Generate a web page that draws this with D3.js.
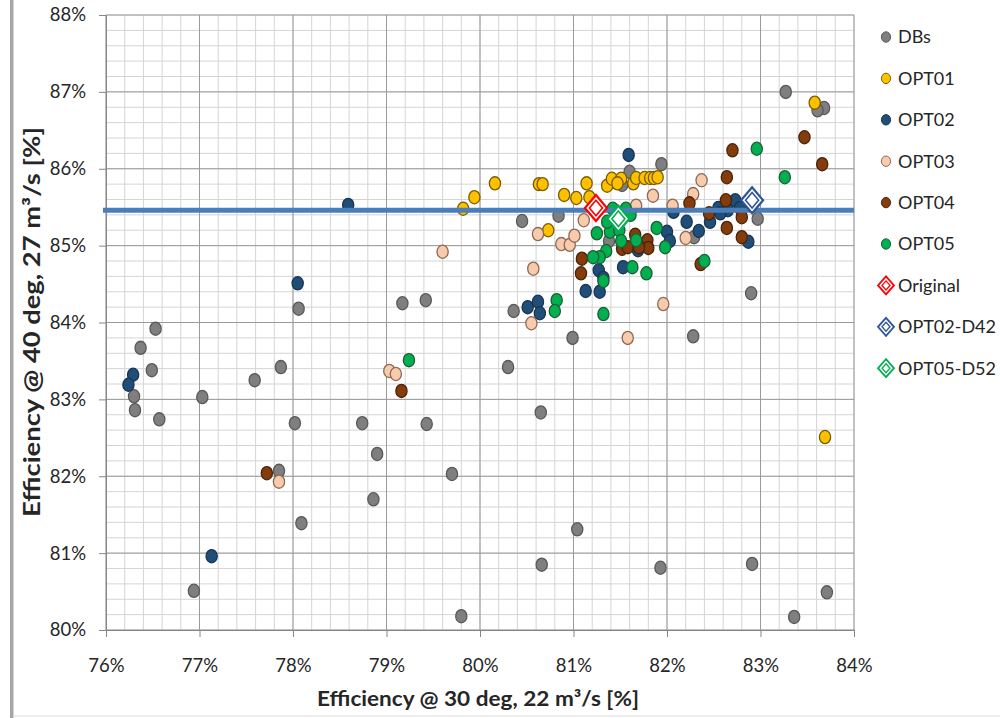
<!DOCTYPE html>
<html>
<head>
<meta charset="utf-8">
<script src="https://cdn.jsdelivr.net/npm/d3@7"></script>
<style>
  body { margin: 0; background: #fff; }
  text { font-family: Lato, "Noto Sans", sans-serif; fill: #262626; }
</style>
</head>
<body>
<script>
const width = 1000;
const height = 718;

// data, [x, y] in percent
const dbs = [
    [83.27, 87.00], [83.68, 86.79], [83.61, 86.76], [81.94, 86.06], [81.60, 85.96],
    [81.52, 85.79], [80.45, 85.32], [80.84, 85.39], [82.97, 85.35], [82.29, 85.11],
    [81.38, 85.06], [80.36, 84.15], [80.99, 83.80], [82.90, 84.38], [82.28, 83.82],
    [79.17, 84.25], [79.42, 84.29], [78.06, 84.18], [80.30, 83.42], [77.87, 83.42],
    [77.59, 83.25], [76.53, 83.92], [76.37, 83.67], [76.49, 83.38], [76.30, 83.04],
    [76.31, 82.86], [76.57, 82.74], [77.03, 83.03], [78.02, 82.69], [78.74, 82.69],
    [79.43, 82.68], [80.65, 82.83], [78.90, 82.29], [79.70, 82.03], [78.86, 81.70],
    [78.09, 81.39], [81.04, 81.31], [80.66, 80.85], [81.93, 80.81], [82.91, 80.86],
    [83.36, 80.17], [83.71, 80.49], [79.80, 80.18], [76.94, 80.51], [77.85, 82.07]
];
const opt01 = [
    [83.58, 86.86], [83.69, 82.51], [79.82, 85.48], [79.94, 85.63], [80.16, 85.81],
    [80.63, 85.80], [80.67, 85.80], [81.14, 85.81], [81.36, 85.78], [81.41, 85.87],
    [81.51, 85.87], [81.47, 85.81], [81.64, 85.81], [81.67, 85.88], [81.76, 85.88],
    [81.82, 85.88], [81.86, 85.88], [81.90, 85.89], [80.90, 85.66], [81.03, 85.62],
    [81.17, 85.63], [80.73, 85.20]
];
const opt02 = [
    [81.59, 86.18], [78.59, 85.53], [78.05, 84.51], [77.13, 80.96], [76.29, 83.32],
    [76.24, 83.19], [80.51, 84.20], [80.62, 84.27], [80.64, 84.12], [81.13, 84.41],
    [81.28, 84.40], [81.27, 84.68], [81.32, 84.58], [81.53, 84.72], [81.69, 84.94],
    [82.00, 85.18], [82.03, 85.06], [82.07, 85.44], [82.21, 85.31], [82.34, 85.19],
    [82.46, 85.31], [82.55, 85.49], [82.65, 85.46], [82.73, 85.59], [82.78, 85.49],
    [82.87, 85.05], [82.57, 85.42]
];
const opt03 = [
    [79.60, 84.92], [79.03, 83.37], [79.10, 83.33], [77.85, 81.93], [81.85, 85.65],
    [82.06, 85.52], [82.37, 85.85], [82.28, 85.67], [82.20, 85.10], [81.96, 84.24],
    [81.58, 83.80], [81.11, 85.33], [80.62, 85.15], [80.87, 85.02], [80.96, 85.01],
    [81.01, 85.13], [80.57, 84.70], [80.55, 83.99], [81.67, 85.52]
];
const opt04 = [
    [83.47, 86.41], [82.70, 86.24], [83.66, 86.06], [82.64, 85.89], [82.24, 85.55],
    [82.63, 85.59], [82.45, 85.42], [82.80, 85.37], [82.64, 85.23], [82.80, 85.11],
    [82.36, 84.76], [79.16, 83.11], [77.72, 82.04], [81.09, 84.83], [81.08, 84.64],
    [81.52, 84.96], [81.58, 84.98], [81.66, 85.14], [81.79, 85.07], [81.80, 84.97],
    [81.70, 84.98]
];
const opt05 = [
    [82.96, 86.26], [83.26, 85.89], [79.24, 83.51], [82.40, 84.80], [81.98, 84.98],
    [81.89, 85.23], [81.42, 85.48], [81.56, 85.48], [81.25, 85.16], [81.39, 85.18],
    [81.49, 85.20], [81.51, 85.06], [81.67, 85.07], [81.35, 84.93], [81.28, 84.85],
    [81.21, 84.85], [81.32, 84.54], [81.63, 84.72], [81.78, 84.64], [80.82, 84.29],
    [80.80, 84.15], [81.32, 84.11], [81.36, 85.31], [81.61, 85.40]
];
const original = [[81.24, 85.49]];
const opt02D42 = [[82.91, 85.59]];
const opt05D52 = [[81.48, 85.35]];
const refLine = 85.46;

const xTicks = [76, 77, 78, 79, 80, 81, 82, 83, 84];
const yTicks = [80, 81, 82, 83, 84, 85, 86, 87, 88];

const dotSeries = [
    { name: "DBs", data: dbs, fill: "#7f7f7f", stroke: "#595959" },
    { name: "OPT01", data: opt01, fill: "#ffc000", stroke: "#7a5c00" },
    { name: "OPT02", data: opt02, fill: "#1f4e79", stroke: "#1a3553" },
    { name: "OPT03", data: opt03, fill: "#f8cbad", stroke: "#8c6a55" },
    { name: "OPT04", data: opt04, fill: "#843c0c", stroke: "#4a2308" },
    { name: "OPT05", data: opt05, fill: "#00b050", stroke: "#1d5e35" }
];
const diamondSeries = [
    { name: "Original", data: original, color: "#ff0000" },
    { name: "OPT02-D42", data: opt02D42, color: "#2f5597" },
    { name: "OPT05-D52", data: opt05D52, color: "#00b050" }
];

const margin = { left: 106, top: 15, right: 146, bottom: 88 };
const plotW = width - margin.left - margin.right;
const plotH = height - margin.top - margin.bottom;

const x = d3.scaleLinear().domain([76, 84]).range([0, plotW]);
const y = d3.scaleLinear().domain([80, 88]).range([plotH, 0]);

const svg = d3.select("body")
    .append("svg")
    .attr("width", width)
    .attr("height", height);

// frame lines of the picture
svg.append("rect").attr("x", 10).attr("y", 0).attr("width", 3.5).attr("height", height)
    .attr("fill", "#a6a6a6");
svg.append("line").attr("x1", 13).attr("x2", width).attr("y1", 716).attr("y2", 716)
    .attr("stroke", "#dcdcdc");

const g = svg.append("g").attr("transform", `translate(${margin.left},${margin.top})`);

// minor grid, every 0.2%
const minorX = d3.range(76, 84.001, 0.2);
const minorY = d3.range(80, 88.001, 0.2);
g.append("g").selectAll("line").data(minorX).enter().append("line")
    .attr("x1", d => x(d)).attr("x2", d => x(d)).attr("y1", 0).attr("y2", plotH)
    .attr("stroke", "#d4d4d4").attr("stroke-width", 1);
g.append("g").selectAll("line").data(minorY).enter().append("line")
    .attr("y1", d => y(d)).attr("y2", d => y(d)).attr("x1", 0).attr("x2", plotW)
    .attr("stroke", "#d4d4d4").attr("stroke-width", 1);

// major grid
g.append("g").selectAll("line").data(xTicks).enter().append("line")
    .attr("x1", d => x(d)).attr("x2", d => x(d)).attr("y1", 0).attr("y2", plotH)
    .attr("stroke", "#9a9a9a").attr("stroke-width", 1);
g.append("g").selectAll("line").data(yTicks).enter().append("line")
    .attr("y1", d => y(d)).attr("y2", d => y(d)).attr("x1", 0).attr("x2", plotW)
    .attr("stroke", "#9a9a9a").attr("stroke-width", 1);

// axes
const xAxis = g.append("g")
    .attr("transform", `translate(0,${plotH})`)
    .call(d3.axisBottom(x).tickValues(xTicks).tickFormat(d => d + "%").tickSize(7).tickPadding(22));
const yAxis = g.append("g")
    .call(d3.axisLeft(y).tickValues(yTicks).tickFormat(d => d + "%").tickSize(7).tickPadding(13));
[xAxis, yAxis].forEach(a => {
    a.select(".domain").attr("stroke", "#868686");
    a.selectAll(".tick line").attr("stroke", "#868686");
    a.selectAll(".tick text").attr("font-size", 18.5).attr("fill", "#262626")
        .style("font-family", "Lato, 'Noto Sans', sans-serif");
});

// points
dotSeries.forEach(s => {
    g.append("g").selectAll("ellipse").data(s.data).enter().append("ellipse")
        .attr("cx", d => x(d[0]))
        .attr("cy", d => y(d[1]))
        .attr("rx", 5.6)
        .attr("ry", 6.6)
        .attr("fill", s.fill)
        .attr("stroke", s.stroke)
        .attr("stroke-width", 1.3);
});

// reference line
g.append("line")
    .attr("x1", x(76) - 3).attr("x2", x(84))
    .attr("y1", y(refLine)).attr("y2", y(refLine))
    .attr("stroke", "#4a7ebb")
    .attr("stroke-width", 5);

function diamond(w, h) {
    return `M0,${-h} L${w},0 L0,${h} L${-w},0 Z`;
}

diamondSeries.forEach(s => {
    const dg = g.append("g").selectAll("g").data(s.data).enter().append("g")
        .attr("transform", d => `translate(${x(d[0])},${y(d[1])})`);
    dg.append("path").attr("d", diamond(11, 13))
        .attr("fill", "#fff").attr("stroke", s.color).attr("stroke-width", 2.2);
    dg.append("path").attr("d", diamond(6.5, 7.8))
        .attr("fill", "#fff").attr("stroke", s.color).attr("stroke-width", 1.6);
});

// axis titles
svg.append("text")
    .attr("x", 478).attr("y", 706)
    .attr("text-anchor", "middle")
    .attr("font-size", 21).attr("font-weight", "bold")
    .attr("textLength", 322).attr("lengthAdjust", "spacingAndGlyphs")
    .text("Efficiency @ 30 deg, 22 m³/s [%]");

svg.append("text")
    .attr("transform", "translate(40,322) rotate(-90)")
    .attr("text-anchor", "middle")
    .attr("font-size", 22).attr("font-weight", "bold")
    .attr("textLength", 390).attr("lengthAdjust", "spacingAndGlyphs")
    .text("Efficiency @ 40 deg, 27 m³/s [%]");

// legend
const legend = svg.append("g").attr("transform", "translate(886,37)");
const rowH = 41.4;
dotSeries.forEach((s, i) => {
    const row = legend.append("g").attr("transform", `translate(0,${i * rowH})`);
    row.append("ellipse").attr("rx", 4.6).attr("ry", 5.2)
        .attr("fill", s.fill).attr("stroke", s.stroke).attr("stroke-width", 1);
    row.append("text").attr("x", 12).attr("dy", "0.35em").attr("font-size", 18).text(s.name);
});
diamondSeries.forEach((s, i) => {
    const row = legend.append("g").attr("transform", `translate(0,${(i + dotSeries.length) * rowH})`);
    row.append("path").attr("d", diamond(8, 9))
        .attr("fill", "#fff").attr("stroke", s.color).attr("stroke-width", 1.8);
    row.append("path").attr("d", diamond(4, 4.5))
        .attr("fill", "#fff").attr("stroke", s.color).attr("stroke-width", 1.3);
    row.append("text").attr("x", 12).attr("dy", "0.35em").attr("font-size", 18).text(s.name);
});
</script>
</body>
</html>
